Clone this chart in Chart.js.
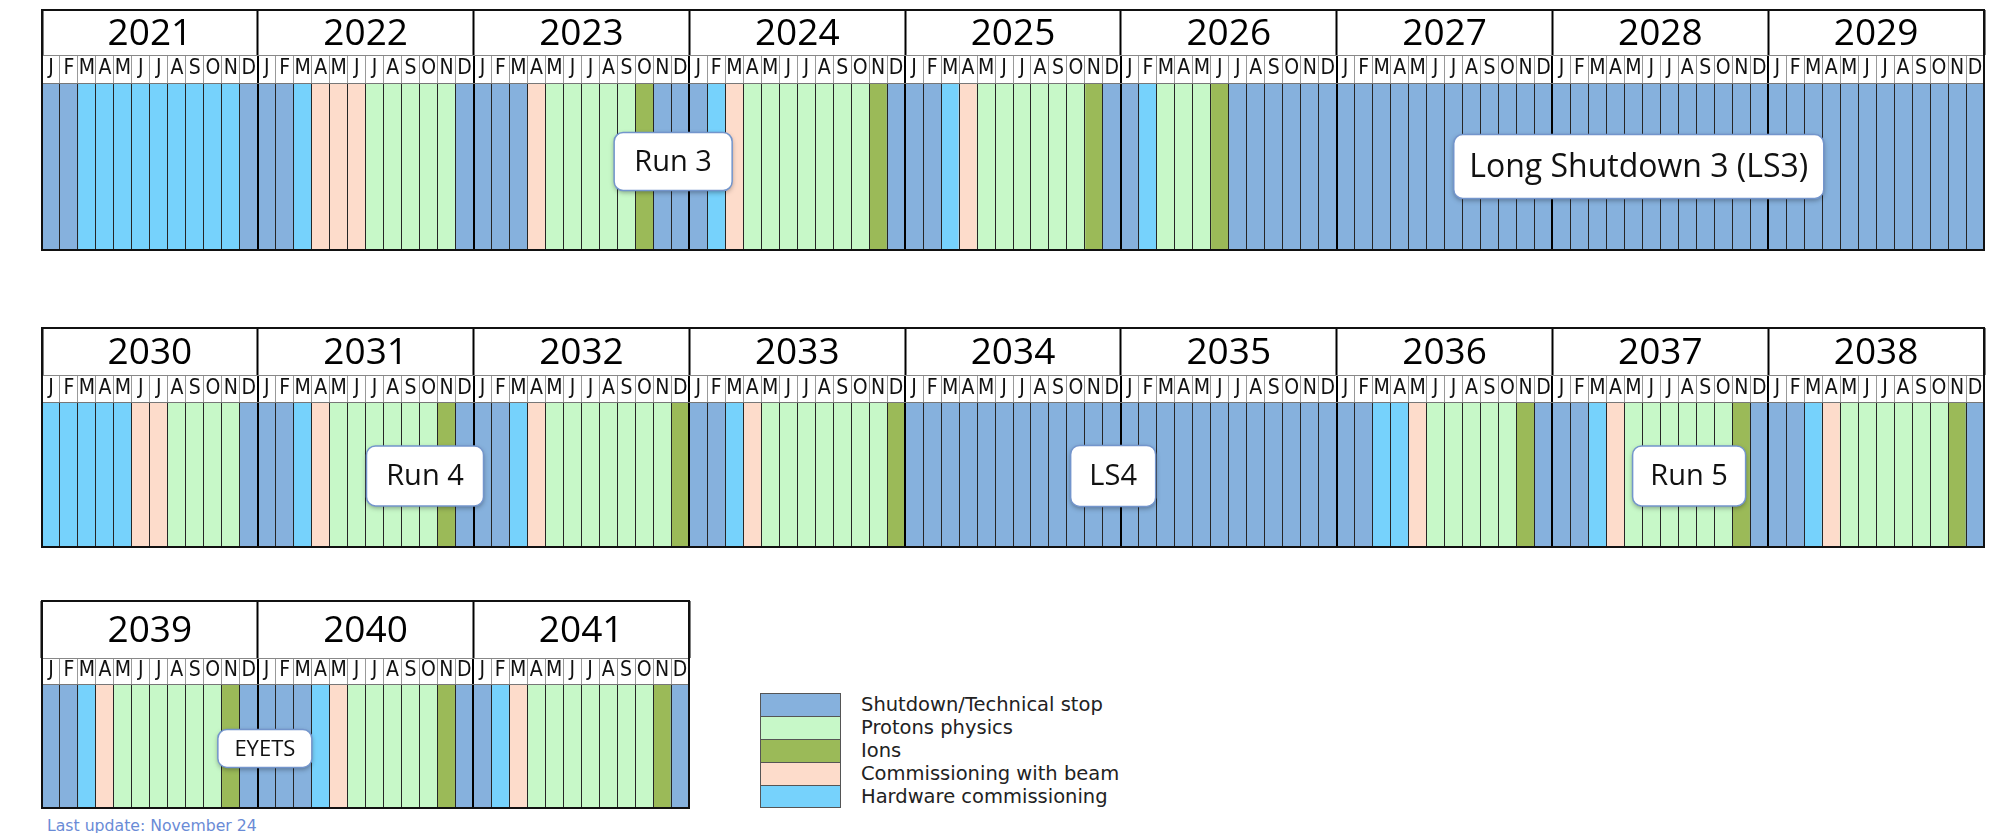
<!DOCTYPE html>
<html lang="en">
<head>
<meta charset="UTF-8">
<title>LHC schedule</title>
<script src="https://cdn.jsdelivr.net/npm/chart.js@4.4.1/dist/chart.umd.min.js"></script>
<style>
    html, body { margin: 0; padding: 0; background: #fff; }
    body { width: 2014px; height: 833px; position: relative; overflow: hidden; font-family: 'DejaVu Sans', Verdana, sans-serif; }
    .row { position: absolute; }
    .row canvas { display: block; }
    .legend { position: absolute; left: 760px; top: 693px; }
    .legend .item { display: flex; align-items: center; height: 23px; }
    .legend .swatch { width: 81px; height: 23px; box-sizing: border-box; border: 1px solid #555; border-bottom: none; }
    .legend .item:last-child .swatch { border-bottom: 1px solid #555; }
    .legend .text { margin-left: 20px; font-size: 19.5px; color: #222; white-space: nowrap; }
    .updated { position: absolute; left: 47px; top: 816px; font-size: 15.7px; color: #6a8bd6; }
</style>
</head>
<body>

<div class="legend" id="legend"></div>
<div class="updated">Last update: November 24</div>

<script>
    // one string per year, one letter per month (S shutdown, P protons, I ions, C commissioning, H hardware)
    var years = [2021, 2022, 2023, 2024, 2025, 2026, 2027, 2028, 2029, 2030, 2031,
                 2032, 2033, 2034, 2035, 2036, 2037, 2038, 2039, 2040, 2041];
    var schedule = [
        'SSHHHHHHHHHS', // 2021
        'SSHCCCPPPPPS', // 2022
        'SSSCPPPPPISS', // 2023
        'SHCPPPPPPPIS', // 2024
        'SSHCPPPPPPIS', // 2025
        'SHPPPISSSSSS', // 2026
        'SSSSSSSSSSSS', // 2027
        'SSSSSSSSSSSS', // 2028
        'SSSSSSSSSSSS', // 2029
        'HHHHHCCPPPPS', // 2030
        'SSHCPPPPPPIS', // 2031
        'SSHCPPPPPPPI', // 2032
        'SSHCPPPPPPPI', // 2033
        'SSSSSSSSSSSS', // 2034
        'SSSSSSSSSSSS', // 2035
        'SSHHCPPPPPIS', // 2036
        'SSHCPPPPPPIS', // 2037
        'SSHCPPPPPPIS', // 2038
        'SSHCPPPPPPIS', // 2039
        'SSSHCPPPPPIS', // 2040
        'SHCPPPPPPPIS'  // 2041
    ];
    var monthLetters = ['J', 'F', 'M', 'A', 'M', 'J', 'J', 'A', 'S', 'O', 'N', 'D'];

    var statusCodes = ['S', 'P', 'I', 'C', 'H'];
    var statusNames = ['Shutdown/Technical stop', 'Protons physics', 'Ions',
                       'Commissioning with beam', 'Hardware commissioning'];
    var statusColors = ['#86b1dd', '#c7f8c8', '#9bba58', '#fddccb', '#76d2fc'];

    var rowYears = [
        [2021, 2022, 2023, 2024, 2025, 2026, 2027, 2028, 2029],
        [2030, 2031, 2032, 2033, 2034, 2035, 2036, 2037, 2038],
        [2039, 2040, 2041]
    ];

    // boxes in the rows: month index (within the row) and text
    var callouts = [
        [{ at: 34.6, y: 0.47, text: 'Run 3', w: 118, h: 58, size: 29 },
         { at: 88.3, y: 0.50, text: 'Long Shutdown 3 (LS3)', w: 370, h: 64, size: 32 }],
        [{ at: 20.8, y: 0.51, text: 'Run 4', w: 117, h: 60, size: 29 },
         { at: 59.07, y: 0.51, text: 'LS4', w: 85, h: 61, size: 29 },
         { at: 91.1, y: 0.51, text: 'Run 5', w: 113, h: 60, size: 29 }],
        [{ at: 11.9, y: 0.52, text: 'EYETS', w: 94, h: 38, size: 22 }]
    ];

    var rowBoxes = [
        { left: 42, top: 10, width: 1942, yearH: 45, monthH: 28, bodyH: 167 },
        { left: 42, top: 328, width: 1942, yearH: 47, monthH: 27, bodyH: 145 },
        { left: 42, top: 601, width: 647, yearH: 57, monthH: 26, bodyH: 124 }
    ];

    var PAD = 3;

    // outer black frame of every block
    var framePlugin = {
        id: 'frame',
        afterDraw: function(chart) {
            var ca = chart.chartArea, top = chart.scales.x2.top;
            var ctx = chart.ctx;
            ctx.save();
            ctx.strokeStyle = '#111';
            ctx.lineWidth = 2;
            ctx.strokeRect(ca.left, top, ca.right - ca.left, ca.bottom - top);
            ctx.restore();
        }
    };

    var calloutPlugin = {
        id: 'callouts',
        afterDraw: function(chart, args, opts) {
            var ctx = chart.ctx, ca = chart.chartArea, xs = chart.scales.x;
            (opts.items || []).forEach(function(c) {
                var cx = xs.getPixelForValue(c.at);
                var cy = ca.top + c.y * (ca.bottom - ca.top);
                var x0 = cx - c.w / 2, y0 = cy - c.h / 2;
                ctx.save();
                ctx.shadowColor = 'rgba(0,0,0,0.35)';
                ctx.shadowBlur = 5;
                ctx.shadowOffsetY = 2;
                ctx.fillStyle = '#fff';
                ctx.beginPath();
                ctx.roundRect(x0, y0, c.w, c.h, 9);
                ctx.fill();
                ctx.restore();
                ctx.save();
                ctx.strokeStyle = '#7395cc';
                ctx.lineWidth = 1.5;
                ctx.beginPath();
                ctx.roundRect(x0, y0, c.w, c.h, 9);
                ctx.stroke();
                ctx.fillStyle = '#111';
                ctx.font = c.size + "px 'Open Sans', 'Noto Sans', sans-serif";
                ctx.textAlign = 'center';
                ctx.textBaseline = 'middle';
                ctx.fillText(c.text, cx, cy + 1);
                ctx.restore();
            });
        }
    };

    function buildRow(r) {
        var ys = rowYears[r], box = rowBoxes[r];
        var labels = [], codes = '';
        ys.forEach(function(y) {
            labels = labels.concat(monthLetters);
            codes += schedule[years.indexOf(y)];
        });

        var datasets = statusCodes.map(function(c, k) {
            return {
                label: statusNames[k],
                data: codes.split('').map(function(v) { return v === c ? 1 : null; }),
                backgroundColor: statusColors[k],
                borderWidth: 0,
                barPercentage: 1,
                categoryPercentage: 1
            };
        });

        var wrap = document.createElement('div');
        wrap.className = 'row';
        wrap.style.left = (box.left - PAD) + 'px';
        wrap.style.top = (box.top - PAD) + 'px';
        var canvas = document.createElement('canvas');
        canvas.width = box.width + 2 * PAD;
        canvas.height = box.yearH + box.monthH + box.bodyH + 2 * PAD;
        wrap.appendChild(canvas);
        document.body.appendChild(wrap);

        var monthSize = 21, yearSize = 37;
        var isYearLine = function(ctx) { return ctx.index % 12 === 0; };

        new Chart(canvas, {
            type: 'bar',
            data: { labels: labels, datasets: datasets },
            options: {
                responsive: false,
                animation: false,
                devicePixelRatio: 1,
                layout: { padding: PAD },
                plugins: {
                    legend: { display: false },
                    tooltip: { enabled: false },
                    callouts: { items: callouts[r] }
                },
                scales: {
                    x: {
                        type: 'category',
                        position: 'top',
                        stacked: true,
                        offset: true,
                        weight: 0,
                        grid: {
                            offset: true,
                            drawOnChartArea: true,
                            drawTicks: true,
                            tickLength: box.monthH,
                            z: 1,
                            color: function(ctx) { return isYearLine(ctx) ? '#000' : '#262626'; },
                            lineWidth: function(ctx) { return isYearLine(ctx) ? 2 : 1; },
                            tickColor: function(ctx) { return isYearLine(ctx) ? '#000' : '#999'; },
                            tickWidth: function(ctx) { return isYearLine(ctx) ? 2 : 1; }
                        },
                        border: { display: true, color: '#777', width: 1, z: 2 },
                        ticks: {
                            autoSkip: false,
                            maxRotation: 0,
                            minRotation: 0,
                            color: '#111',
                            font: { family: "'DejaVu Sans Condensed', 'DejaVu Sans', sans-serif", size: monthSize, lineHeight: 1 },
                            padding: -(box.monthH / 2 + monthSize / 2)
                        },
                        afterFit: function(s) { s.height = box.monthH; }
                    },
                    x2: {
                        type: 'category',
                        labels: ys.map(String),
                        position: 'top',
                        offset: true,
                        weight: 1,
                        grid: {
                            offset: true,
                            drawOnChartArea: false,
                            drawTicks: true,
                            tickLength: box.yearH,
                            tickColor: '#000',
                            tickWidth: 2
                        },
                        border: { display: true, color: '#888', width: 1, z: 2 },
                        ticks: {
                            autoSkip: false,
                            maxRotation: 0,
                            minRotation: 0,
                            color: '#000',
                            font: { family: "'Open Sans', 'Noto Sans', sans-serif", size: yearSize, lineHeight: 1 },
                            padding: -(box.yearH / 2 + yearSize / 2) - 2
                        },
                        afterFit: function(s) { s.height = box.yearH; }
                    },
                    y: { display: false, stacked: true, min: 0, max: 1 }
                }
            },
            plugins: [framePlugin, calloutPlugin]
        });
    }

    for (var r = 0; r < rowYears.length; r++) {
        buildRow(r);
    }

    // legend block under the charts
    var legend = document.getElementById('legend');
    statusNames.forEach(function(name, k) {
        var item = document.createElement('div');
        item.className = 'item';
        var sw = document.createElement('div');
        sw.className = 'swatch';
        sw.style.background = statusColors[k];
        var tx = document.createElement('div');
        tx.className = 'text';
        tx.textContent = name;
        item.appendChild(sw);
        item.appendChild(tx);
        legend.appendChild(item);
    });
</script>

</body>
</html>
